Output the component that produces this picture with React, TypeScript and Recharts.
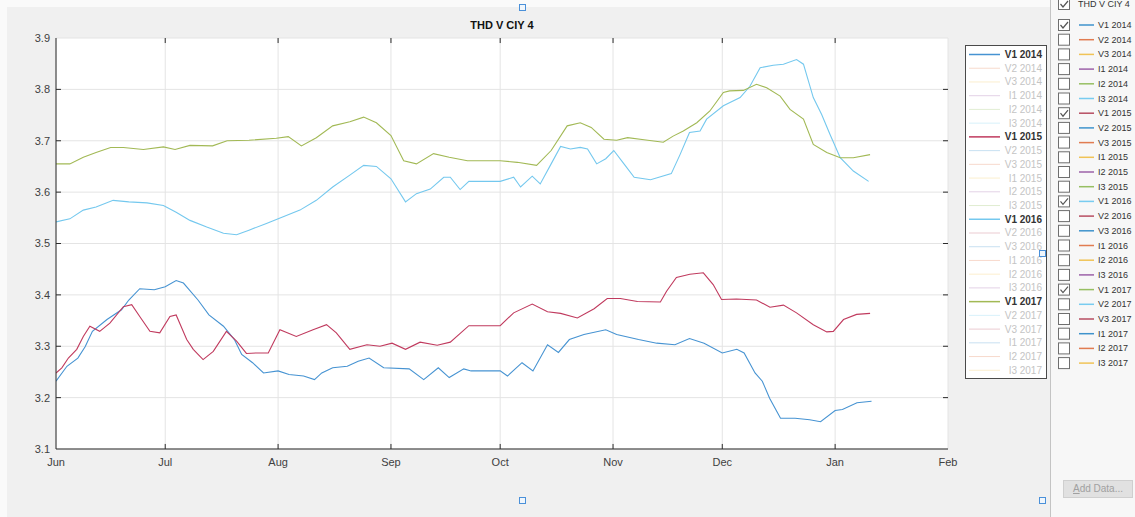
import React from "react";
import {
  CartesianGrid,
  Legend,
  Line,
  LineChart,
  ReferenceLine,
  XAxis,
  YAxis,
} from "recharts";

// x = days since 1 Jun
const monthTicks = [0, 30, 61, 92, 122, 153, 183, 214, 245];
const monthLabels = ["Jun", "Jul", "Aug", "Sep", "Oct", "Nov", "Dec", "Jan", "Feb"];
const valueTicks = [3.1, 3.2, 3.3, 3.4, 3.5, 3.6, 3.7, 3.8, 3.9];

const v1_2014Days = [0, 3, 6, 8, 10, 14, 18, 20, 23, 27, 30, 33, 35, 39, 42, 46, 49, 51, 54, 57, 61, 64, 68, 71, 73, 76, 80, 83, 86, 90, 97, 101, 105, 108, 112, 114, 122, 124, 128, 131, 135, 138, 141, 145, 151, 154, 160, 165, 170, 174, 178, 183, 187, 189, 192, 194, 196, 199, 203, 207, 210, 214, 216, 220, 224];
const v1_2014Values = [3.232, 3.261, 3.277, 3.299, 3.329, 3.352, 3.371, 3.39, 3.412, 3.41, 3.416, 3.428, 3.423, 3.39, 3.361, 3.339, 3.313, 3.284, 3.268, 3.248, 3.252, 3.245, 3.242, 3.235, 3.248, 3.258, 3.261, 3.271, 3.277, 3.258, 3.256, 3.235, 3.258, 3.239, 3.256, 3.252, 3.252, 3.242, 3.268, 3.252, 3.303, 3.288, 3.313, 3.323, 3.332, 3.323, 3.313, 3.306, 3.303, 3.315, 3.306, 3.287, 3.294, 3.287, 3.248, 3.232, 3.199, 3.16, 3.16, 3.157, 3.153, 3.175, 3.177, 3.19, 3.193];

const v1_2015Days = [0, 1.6, 3.4, 5.7, 7.5, 9.3, 12, 14.8, 18.5, 20.8, 23, 25.8, 28.5, 31.3, 33, 35.9, 37.7, 40.4, 43.2, 46.8, 49.6, 52.3, 55, 58.3, 61.5, 66, 70.6, 74.3, 77, 80.7, 85.4, 89, 92.3, 96, 100, 104.7, 108.3, 113.4, 122, 125.7, 130.8, 135, 138.6, 143.2, 147.8, 151.4, 155, 159.7, 166, 167.7, 170.4, 174.1, 177.8, 180.5, 182.8, 186.9, 192.4, 196.1, 199.8, 203.4, 208, 211.7, 213.5, 216.3, 219.9, 223.6];
const v1_2015Values = [3.248, 3.258, 3.277, 3.294, 3.319, 3.339, 3.329, 3.345, 3.377, 3.381, 3.358, 3.329, 3.326, 3.358, 3.361, 3.313, 3.294, 3.274, 3.29, 3.329, 3.31, 3.286, 3.287, 3.287, 3.332, 3.319, 3.332, 3.342, 3.326, 3.294, 3.303, 3.3, 3.306, 3.294, 3.308, 3.302, 3.308, 3.34, 3.34, 3.365, 3.382, 3.367, 3.364, 3.355, 3.373, 3.393, 3.393, 3.387, 3.386, 3.407, 3.434, 3.44, 3.443, 3.42, 3.391, 3.392, 3.39, 3.376, 3.38, 3.365, 3.342, 3.328, 3.329, 3.352, 3.362, 3.364];

const v1_2016Days = [0, 3.8, 7.5, 11, 15.7, 20, 25, 29.5, 33, 36.8, 41.4, 46, 49.6, 53, 57.8, 62.4, 67, 71.5, 76, 80.7, 84.5, 88, 92, 96, 99, 102.8, 106.5, 108.3, 111, 113.4, 122, 125.7, 127.6, 130.8, 133, 136, 138.6, 141.3, 144, 146, 148.5, 151, 153.2, 156, 158.8, 163.3, 169, 171.4, 174, 176.9, 178.7, 183.3, 187.9, 190.6, 193.4, 197, 199.8, 203.4, 205.3, 208, 210.3, 212.6, 215.4, 219, 223.2];
const v1_2016Values = [3.542, 3.548, 3.565, 3.571, 3.584, 3.581, 3.579, 3.574, 3.561, 3.545, 3.532, 3.52, 3.517, 3.526, 3.539, 3.552, 3.565, 3.584, 3.61, 3.633, 3.652, 3.65, 3.626, 3.581, 3.597, 3.606, 3.629, 3.629, 3.605, 3.621, 3.621, 3.629, 3.61, 3.631, 3.616, 3.655, 3.689, 3.684, 3.687, 3.684, 3.655, 3.665, 3.681, 3.655, 3.629, 3.624, 3.636, 3.673, 3.716, 3.719, 3.742, 3.768, 3.784, 3.806, 3.842, 3.847, 3.849, 3.858, 3.849, 3.784, 3.751, 3.712, 3.667, 3.641, 3.621];

const v1_2017Days = [0, 3.8, 7.5, 11, 15, 18.5, 24, 29.5, 32.7, 36.8, 43, 47, 53, 60.5, 63.8, 67.4, 71.5, 76, 80.7, 84.5, 88, 92, 95.5, 99, 103.7, 108, 113, 122, 126.7, 132, 136, 140.4, 144, 147, 150.5, 154, 157, 161.5, 166.8, 169.5, 172.3, 176, 179.6, 183.3, 185, 188.8, 192.4, 195.2, 198.9, 201.6, 205.3, 208, 211.7, 215.4, 219, 223.6];
const v1_2017Values = [3.655, 3.655, 3.668, 3.677, 3.687, 3.687, 3.683, 3.688, 3.683, 3.691, 3.69, 3.7, 3.701, 3.705, 3.708, 3.69, 3.706, 3.729, 3.737, 3.746, 3.735, 3.71, 3.661, 3.655, 3.675, 3.668, 3.661, 3.661, 3.658, 3.652, 3.681, 3.729, 3.735, 3.726, 3.703, 3.701, 3.706, 3.702, 3.697, 3.709, 3.719, 3.735, 3.758, 3.794, 3.797, 3.798, 3.81, 3.803, 3.787, 3.761, 3.742, 3.693, 3.677, 3.667, 3.667, 3.673];

const quantities = ["V1", "V2", "V3", "I1", "I2", "I3"];
const years = ["2014", "2015", "2016", "2017"];
const colorOrder = ["#0072BD", "#D95319", "#EDB120", "#7E2F8E", "#77AC30", "#4DBEEE", "#A2142F"];

const seriesColors: Record<string, string> = {
  "V1 2014": "#4693d2",
  "V1 2015": "#c03a5e",
  "V1 2016": "#74c8ee",
  "V1 2017": "#a2b955",
};

const toPoints = (days: number[], values: number[]) =>
  days.map((day, i) => ({ day, v: values[i] }));

const plotted = [
  { name: "V1 2014", data: toPoints(v1_2014Days, v1_2014Values) },
  { name: "V1 2015", data: toPoints(v1_2015Days, v1_2015Values) },
  { name: "V1 2016", data: toPoints(v1_2016Days, v1_2016Values) },
  { name: "V1 2017", data: toPoints(v1_2017Days, v1_2017Values) },
];

const entries = years.flatMap((y, yi) =>
  quantities.map((q, qi) => ({
    name: `${q} ${y}`,
    color: colorOrder[(yi * 6 + qi) % 7],
    shown: q === "V1",
  }))
);

const FONT = "'Liberation Sans', Arial, Helvetica, sans-serif";

const LegendBox = () => (
  <div style={{ width: 80, height: 332, background: "#fff", border: "1px solid #4a4a4a" }}>
    <svg width={80} height={332} style={{ display: "block" }}>
      {entries.map((e, i) => {
        const y = 8.5 + i * 13.73;
        return (
          <g key={e.name}>
            <line
              x1={3}
              x2={34}
              y1={y}
              y2={y}
              stroke={e.shown ? seriesColors[e.name] : e.color}
              strokeOpacity={e.shown ? 1 : 0.22}
              strokeWidth={e.shown ? 1.5 : 1}
            />
            <text
              x={76}
              y={y + 3.5}
              textAnchor="end"
              fontFamily={FONT}
              fontSize={10}
              fontWeight={e.shown ? "bold" : "normal"}
              fill={e.shown ? "#333" : "#c4c4c4"}
            >
              {e.name}
            </text>
          </g>
        );
      })}
    </svg>
  </div>
);

const CheckBox = ({ y, checked }: { y: number; checked: boolean }) => (
  <g>
    <rect x={7.5} y={y - 5.5} width={11} height={11} fill="#fff" stroke="#6e6e6e" />
    {checked && (
      <polyline
        points={`${9.5},${y} ${12},${y + 3} ${17},${y - 3}`}
        fill="none"
        stroke="#555"
        strokeWidth={1.2}
      />
    )}
  </g>
);

const PropertyPanel = () => (
  <div
    style={{
      position: "absolute",
      left: 1050,
      top: 0,
      width: 85,
      height: 517,
      background: "#f7f7f7",
      borderLeft: "1px solid #c4c4c4",
      overflow: "hidden",
    }}
  >
    <svg width={85} height={517} style={{ display: "block" }}>
      <CheckBox y={4} checked />
      <text x={27} y={7} fontFamily={FONT} fontSize={9} fill="#333">
        THD V CIY 4
      </text>
      {entries.map((e, i) => {
        const y = 25 + i * 14.7;
        return (
          <g key={e.name}>
            <CheckBox y={y} checked={e.shown} />
            <line x1={28} x2={43} y1={y} y2={y} stroke={e.color} strokeOpacity={0.75} strokeWidth={1.5} />
            <text x={47} y={y + 3} fontFamily={FONT} fontSize={9} fill="#333">
              {e.name}
            </text>
          </g>
        );
      })}
    </svg>
    <div
      style={{
        position: "absolute",
        left: 12,
        top: 480,
        width: 70,
        height: 18,
        background: "#e1e1e1",
        border: "1px solid #cfcfcf",
        boxSizing: "border-box",
        fontFamily: FONT,
        fontSize: 10,
        lineHeight: "16px",
        textAlign: "center",
        color: "#a0a0a0",
      }}
    >
      <u>A</u>dd Data...
    </div>
  </div>
);

const Handle = ({ x, y }: { x: number; y: number }) => (
  <div
    style={{
      position: "absolute",
      left: x - 3,
      top: y - 3,
      width: 5,
      height: 5,
      border: "1px solid #4a90d9",
      background: "#f0f6fc",
    }}
  />
);

const X_TICK_LEN = 1.37;
const Y_TICK_LEN = 0.0098;

const App = () => {
  return (
    <div style={{ position: "absolute", left: 0, top: 0, width: 1135, height: 517, background: "#fafafa", overflow: "hidden" }}>
      <div style={{ position: "absolute", left: 7, top: 7, width: 1043, height: 510, background: "#f0f0f0" }} />
      <div
        style={{
          position: "absolute",
          left: 56,
          width: 892,
          top: 19,
          textAlign: "center",
          fontFamily: FONT,
          fontSize: 11,
          fontWeight: "bold",
          color: "#111",
        }}
      >
        THD V CIY 4
      </div>
      <div style={{ position: "absolute", left: 0, top: 0 }}>
        <LineChart width={1050} height={480} margin={{ top: 38, right: 102, bottom: 0, left: 16 }}>
          <CartesianGrid stroke="#e4e4e4" fill="#fff" />
          <XAxis
            dataKey="day"
            type="number"
            domain={[0, 245]}
            ticks={monthTicks}
            tickFormatter={(d: number) => monthLabels[monthTicks.indexOf(d)] ?? ""}
            allowDataOverflow
            height={31}
            tickLine={false}
            tickSize={6}
            tickMargin={3}
            axisLine={{ stroke: "#2b2b2b" }}
            tick={{ fill: "#404040", fontSize: 11, fontFamily: FONT }}
            interval={0}
          />
          <XAxis
            xAxisId="top"
            orientation="top"
            type="number"
            domain={[0, 245]}
            ticks={monthTicks}
            height={0}
            tick={false}
            tickLine={false}
            axisLine={{ stroke: "#2b2b2b" }}
          />
          <YAxis
            type="number"
            domain={[3.1, 3.9]}
            ticks={valueTicks}
            allowDataOverflow
            width={40}
            tickLine={false}
            tickSize={4}
            tickMargin={2}
            tickFormatter={(v: number) => v.toFixed(1)}
            axisLine={{ stroke: "#2b2b2b" }}
            tick={{ fill: "#404040", fontSize: 11, fontFamily: FONT }}
            interval={0}
          />
          <YAxis
            yAxisId="right"
            orientation="right"
            type="number"
            domain={[3.1, 3.9]}
            width={0}
            tick={false}
            tickLine={false}
            axisLine={{ stroke: "#2b2b2b" }}
          />
          {valueTicks.slice(1, -1).map((v) => (
            <ReferenceLine key={`l${v}`} segment={[{ x: 0, y: v }, { x: X_TICK_LEN, y: v }]} stroke="#2b2b2b" />
          ))}
          {valueTicks.slice(1, -1).map((v) => (
            <ReferenceLine key={`r${v}`} segment={[{ x: 245 - X_TICK_LEN, y: v }, { x: 245, y: v }]} stroke="#2b2b2b" />
          ))}
          {monthTicks.slice(1, -1).map((d) => (
            <ReferenceLine key={`b${d}`} segment={[{ x: d, y: 3.1 }, { x: d, y: 3.1 + Y_TICK_LEN }]} stroke="#2b2b2b" />
          ))}
          {monthTicks.slice(1, -1).map((d) => (
            <ReferenceLine key={`t${d}`} segment={[{ x: d, y: 3.9 - Y_TICK_LEN }, { x: d, y: 3.9 }]} stroke="#2b2b2b" />
          ))}
          {plotted.map((s) => (
            <Line
              key={s.name}
              name={s.name}
              data={s.data}
              dataKey="v"
              type="linear"
              stroke={seriesColors[s.name]}
              strokeWidth={1.1}
              dot={false}
              activeDot={false}
              isAnimationActive={false}
            />
          ))}
          <Legend
            layout="horizontal"
            verticalAlign="middle"
            align="center"
            wrapperStyle={{ left: 965, top: 45, width: 82, height: 334 }}
            content={() => <LegendBox />}
          />
        </LineChart>
      </div>
      <PropertyPanel />
      <Handle x={522} y={7} />
      <Handle x={1042} y={253} />
      <Handle x={522} y={500} />
      <Handle x={1042} y={500} />
    </div>
  );
};

export default App;
